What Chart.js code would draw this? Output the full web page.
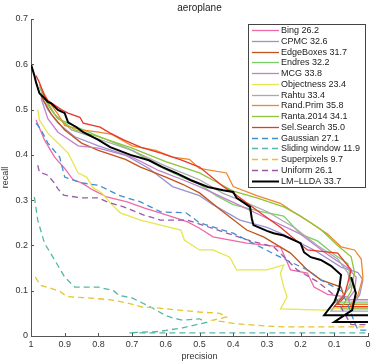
<!DOCTYPE html>
<html>
<head>
<meta charset="utf-8">
<title>aeroplane</title>
<script src="https://cdn.jsdelivr.net/npm/chart.js"></script>
<style>
  html, body { margin: 0; padding: 0; background: #fff; }
  #grafica { display: block; }
</style>
</head>
<body>
<canvas id="grafica" width="374" height="362"></canvas>
<script>
// puntos [precision, recall]; null = corte de linea
const nombres = ['Bing 26.2', 'CPMC 32.6', 'EdgeBoxes 31.7', 'Endres 32.2', 'MCG 33.8',
  'Objectness 23.4', 'Rahtu 33.4', 'Rand.Prim 35.8', 'Ranta.2014 34.1', 'Sel.Search 35.0',
  'Gaussian 27.1', 'Sliding window 11.9', 'Superpixels 9.7', 'Uniform 26.1', 'LM\u2212LLDA 33.7'];

const bing = [[0.985,0.477],[0.96,0.433],[0.93,0.395],[0.9,0.37],[0.875,0.345],[0.85,0.338],[0.815,0.322],
  [0.775,0.307],[0.715,0.296],[0.665,0.283],[0.58,0.263],[0.535,0.252],[0.5,0.238],[0.46,0.219],[0.36,0.205],
  [0.26,0.197],[0.23,0.146],[0.18,0.139],[0.16,0.108],[0.12,0.092],[0.06,0.086],[0.05,0.062],[0,0.062]];
const cpmc = [[0.97,0.53],[0.95,0.5],[0.92,0.47],[0.87,0.44],[0.8,0.42],[0.72,0.4],[0.65,0.37],[0.58,0.33],
  [0.5,0.31],[0.46,0.29],[0.38,0.256],[0.3,0.24],[0.26,0.227],[0.16,0.19],[0.08,0.152],[0.03,0.14],
  [0.015,0.124],[0.025,0.09],[0.05,0.065],[0,0.065]];
const edgeBoxes = [[0.97,0.53],[0.94,0.49],[0.9,0.455],[0.85,0.426],[0.8,0.41],[0.72,0.39],[0.675,0.373],
  [0.6,0.351],[0.55,0.335],[0.5,0.316],[0.44,0.28],[0.36,0.234],[0.31,0.219],[0.23,0.183],[0.18,0.146],
  [0.14,0.124],[0.08,0.108],[0.07,0.085],[0.09,0.07],[0,0.07]];
const endres = [[0.975,0.55],[0.95,0.51],[0.92,0.48],[0.86,0.46],[0.78,0.435],[0.7,0.41],[0.62,0.375],
  [0.55,0.35],[0.5,0.335],[0.45,0.31],[0.4,0.29],[0.32,0.275],[0.25,0.265],[0.2,0.225],[0.15,0.21],
  [0.1,0.18],[0.06,0.16],[0.05,0.12],[0.07,0.09],[0.1,0.075],[0,0.075]];
const mcg = [[0.97,0.525],[0.95,0.48],[0.92,0.45],[0.9,0.44],[0.86,0.42],[0.8,0.415],[0.7,0.395],[0.62,0.365],
  [0.55,0.345],[0.5,0.33],[0.4,0.295],[0.3,0.26],[0.2,0.225],[0.12,0.18],[0.06,0.15],[0.035,0.13],
  [0.04,0.1],[0.06,0.08],[0,0.08]];
const objectness = [[0.98,0.5],[0.975,0.477],[0.95,0.448],[0.92,0.426],[0.89,0.404],[0.875,0.382],[0.86,0.36],
  [0.835,0.351],[0.815,0.327],[0.79,0.316],[0.765,0.294],[0.735,0.272],[0.675,0.256],[0.615,0.245],
  [0.555,0.234],[0.545,0.212],[0.5,0.19],[0.46,0.19],[0.41,0.174],[0.39,0.146],[0.3,0.146],[0.25,0.157],
  [0.26,0.139],[0.25,0.108],[0.24,0.086],[0.26,0.06],[0.13,0.057],[0.08,0.062],[0,0.062]];
const rahtu = [[0.97,0.54],[0.93,0.49],[0.88,0.455],[0.8,0.435],[0.7,0.41],[0.6,0.375],[0.5,0.345],[0.43,0.315],
  [0.38,0.3],[0.3,0.275],[0.22,0.24],[0.15,0.2],[0.09,0.17],[0.06,0.14],[0.05,0.11],[0.08,0.085],
  [0.11,0.055],[0,0.055]];
const randPrim = [[0.975,0.555],[0.95,0.52],[0.92,0.49],[0.9,0.465],[0.85,0.455],[0.8,0.45],[0.76,0.445],
  [0.7,0.42],[0.63,0.41],[0.58,0.395],[0.53,0.39],[0.5,0.37],[0.42,0.36],[0.4,0.33],[0.33,0.31],[0.26,0.293],
  [0.23,0.278],[0.17,0.25],[0.12,0.225],[0.08,0.197],[0.04,0.19],[0.02,0.17],[0.015,0.13],[0.03,0.09],
  [0.05,0.07],[0,0.07]];
const ranta = [[0.97,0.545],[0.94,0.5],[0.92,0.48],[0.87,0.455],[0.8,0.44],[0.7,0.415],[0.6,0.385],[0.5,0.36],
  [0.45,0.34],[0.4,0.32],[0.33,0.305],[0.25,0.285],[0.2,0.265],[0.14,0.235],[0.09,0.2],[0.05,0.175],
  [0.04,0.14],[0.05,0.1],[0.08,0.06],[0,0.06]];
const selSearch = [[0.985,0.575],[0.975,0.56],[0.96,0.53],[0.95,0.52],[0.91,0.5],[0.89,0.492],[0.855,0.483],
  [0.845,0.47],[0.795,0.461],[0.765,0.448],[0.725,0.433],[0.675,0.417],[0.615,0.404],[0.555,0.389],
  [0.5,0.373],[0.43,0.33],[0.39,0.311],[0.32,0.272],[0.26,0.24],[0.18,0.19],[0.09,0.183],[0.05,0.146],
  [0.06,0.117],[0.07,0.09],[0.1,0.065],[0,0.065]];
const gaussian = [[0.985,0.47],[0.97,0.455],[0.95,0.426],[0.915,0.395],[0.9,0.351],[0.85,0.338],[0.8,0.333],
  [0.74,0.311],[0.675,0.296],[0.615,0.274],[0.54,0.272],[0.5,0.25],[0.4,0.227],[0.36,0.212],[0.26,0.174],
  [0.18,0.146],[0.14,0.124],[0.08,0.1],[0.06,0.07],[0.04,0.03],[0.03,0.013],[0,0.013]];
const slidingWindow = [[0.99,0.307],[0.98,0.256],[0.96,0.205],[0.93,0.168],[0.9,0.13],[0.87,0.108],[0.8,0.108],
  [0.755,0.1],[0.74,0.09],[0.7,0.084],[0.645,0.064],[0.6,0.045],[0.58,0.04],[0.55,0.035],[0.5,0.038],
  [0.48,0.03],[0.55,0.018],[0.62,0.01],[0.71,0.007],[0.55,0.007],[0,0.007]];
const superpixels = [[0.987,0.13],[0.972,0.112],[0.94,0.105],[0.913,0.098],[0.893,0.087],[0.83,0.084],
  [0.764,0.08],[0.714,0.073],[0.67,0.064],[0.625,0.062],[0.56,0.057],[0.5,0.053],[0.44,0.05],[0.42,0.042],
  [0.46,0.035],[0.4,0.028],[0.34,0.024],[0.25,0.02],[0,0.02]];
const uniform = [[0.98,0.377],[0.975,0.362],[0.95,0.355],[0.933,0.34],[0.92,0.325],[0.903,0.311],[0.853,0.305],
  [0.8,0.305],[0.773,0.296],[0.725,0.285],[0.665,0.267],[0.616,0.256],[0.536,0.256],[0.45,0.235],
  [0.357,0.212],[0.28,0.197],[0.21,0.146],[0.15,0.12],[0.1,0.09],[0.07,0.05],[0.05,0.025],[0,0.025]];
const lmllda = [[1,0.6],[0.99,0.575],[0.985,0.56],[0.975,0.536],[0.96,0.525],[0.95,0.517],[0.94,0.514],
  [0.92,0.499],[0.9,0.492],[0.89,0.472],[0.865,0.461],[0.845,0.45],[0.8,0.433],[0.765,0.417],[0.705,0.4],
  [0.65,0.388],[0.61,0.373],[0.57,0.36],[0.525,0.344],[0.475,0.329],[0.43,0.322],[0.4,0.318],[0.39,0.305],
  [0.35,0.285],[0.345,0.26],[0.34,0.245],[0.3,0.232],[0.28,0.227],[0.25,0.222],[0.2,0.205],[0.19,0.185],
  [0.17,0.174],[0.14,0.168],[0.11,0.155],[0.08,0.135],[0.085,0.106],[0.1,0.075],[0.13,0.046],[0,0.046],
  null,[0.05,0.13],[0.036,0.095],[0.047,0.057],[0.1,0.031],[0,0.031]];

const series = [bing, cpmc, edgeBoxes, endres, mcg, objectness, rahtu, randPrim, ranta, selSearch,
  gaussian, slidingWindow, superpixels, uniform, lmllda];

const xTicks = [1, 0.9, 0.8, 0.7, 0.6, 0.5, 0.4, 0.3, 0.2, 0.1, 0];
const yTicks = [0, 0.1, 0.2, 0.3, 0.4, 0.5, 0.6, 0.7];

// estilos
const colores = ['#ee6aa7', '#9b93d0', '#c0541a', '#79cf68', '#c47fce', '#e6e64e', '#aaaaaa', '#f0882a',
  '#8fc43c', '#e8382b', '#3d8fcf', '#55b8a6', '#e6c42a', '#9c58a8', '#000000'];
const punteadas = [10, 11, 12, 13];

Chart.defaults.font.family = '"Liberation Sans", Arial, Helvetica, sans-serif';

const datasets = series.map((puntos, i) => ({
  label: nombres[i],
  data: puntos.map(p => p ? { x: p[0], y: p[1] } : { x: NaN, y: NaN }),
  showLine: true,
  borderColor: colores[i],
  borderWidth: i === 14 ? 2 : 1.3,
  borderDash: punteadas.includes(i) ? [6, 4] : [],
  pointRadius: 0,
  fill: false,
  tension: 0,
  order: 15 - i
}));

const etiqueta = v => String(Math.round(v * 10) / 10);

// marcas hacia dentro, como en matlab
const ticksAdentro = {
  id: 'ticksAdentro',
  afterDraw(chart) {
    const ctx = chart.ctx;
    const { x, y } = chart.scales;
    ctx.save();
    ctx.strokeStyle = '#555';
    ctx.lineWidth = 1;
    ctx.beginPath();
    x.ticks.forEach(t => {
      const px = Math.round(x.getPixelForValue(t.value)) + 0.5;
      ctx.moveTo(px, y.bottom);
      ctx.lineTo(px, y.bottom - 3);
    });
    y.ticks.forEach(t => {
      const py = Math.round(y.getPixelForValue(t.value)) + 0.5;
      ctx.moveTo(x.left, py);
      ctx.lineTo(x.left + 3, py);
    });
    ctx.stroke();
    ctx.restore();
  }
};

const leyenda = {
  id: 'leyenda',
  afterDraw(chart) {
    const ctx = chart.ctx;
    const x0 = 248.5, y0 = 24.5, ancho = 117, alto = 163;
    ctx.save();
    ctx.fillStyle = '#fff';
    ctx.fillRect(x0, y0, ancho, alto);
    ctx.strokeStyle = '#444';
    ctx.lineWidth = 1;
    ctx.strokeRect(x0, y0, ancho, alto);
    ctx.font = '9px "Liberation Sans", Arial, sans-serif';
    ctx.textBaseline = 'middle';
    chart.data.datasets.forEach((ds, i) => {
      const yy = Math.round(30 + i * 10.77) + 0.5;
      ctx.strokeStyle = ds.borderColor;
      ctx.lineWidth = ds.borderWidth;
      ctx.setLineDash(ds.borderDash);
      ctx.beginPath();
      ctx.moveTo(252, yy);
      ctx.lineTo(279, yy);
      ctx.stroke();
      ctx.setLineDash([]);
      ctx.fillStyle = '#222';
      ctx.fillText(ds.label, 281, yy);
    });
    ctx.restore();
  }
};

new Chart(document.getElementById('grafica'), {
  type: 'scatter',
  data: { datasets },
  options: {
    responsive: false,
    animation: false,
    devicePixelRatio: 1,
    layout: { padding: { right: 6 } },
    plugins: {
      legend: { display: false },
      tooltip: { enabled: false },
      title: {
        display: true,
        text: 'aeroplane',
        fullSize: false,
        color: '#222',
        font: { size: 10, weight: 'normal' },
        padding: { top: 2, bottom: 5 }
      }
    },
    scales: {
      x: {
        type: 'linear',
        reverse: true,
        min: 0,
        max: 1,
        afterBuildTicks: s => { s.ticks = xTicks.map(v => ({ value: v })); },
        afterFit: s => { s.height = 26; },
        ticks: { color: '#333', font: { size: 9 }, padding: 3, maxRotation: 0, callback: etiqueta },
        grid: { drawOnChartArea: false, drawTicks: false },
        border: { color: '#555' },
        title: { display: true, text: 'precision', color: '#333', font: { size: 9 }, padding: 0 }
      },
      y: {
        min: 0,
        max: 0.7,
        afterBuildTicks: s => { s.ticks = yTicks.map(v => ({ value: v })); },
        afterFit: s => { s.width = 31; },
        ticks: { color: '#333', font: { size: 9 }, padding: 3, callback: etiqueta },
        grid: { drawOnChartArea: false, drawTicks: false },
        border: { color: '#555' },
        title: { display: true, text: 'recall', color: '#333', font: { size: 9 }, padding: 0 }
      }
    }
  },
  plugins: [ticksAdentro, leyenda]
});
</script>
</body>
</html>
